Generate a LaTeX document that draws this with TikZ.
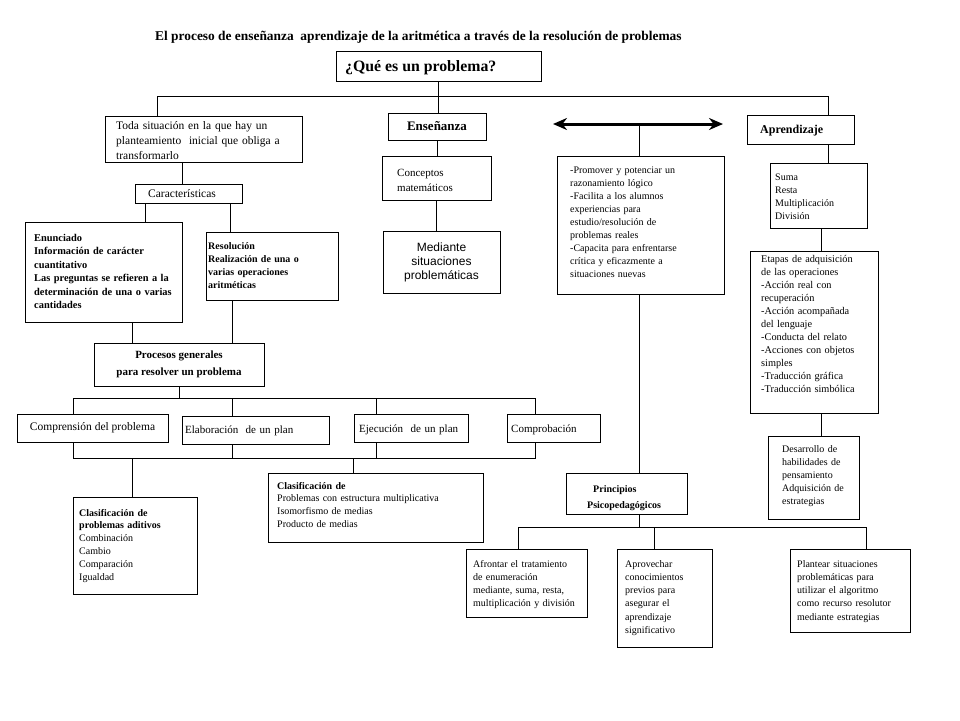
\documentclass[tikz,border=0pt]{standalone}
\usepackage{fontspec}
\setmainfont{Liberation Serif}
\newfontfamily\arialf{Liberation Sans}
\usetikzlibrary{arrows.meta,calc}
\newcommand{\fsz}[2]{\fontsize{#1}{#2}\selectfont}
\newcommand{\mkbox}[5]{\node[box, minimum width={(#4-#2)*1pt}, minimum height={(#5-#3)*1pt}] (#1) at (#2,#3) {};}
\begin{document}
\begin{tikzpicture}[x=1pt,y=-1pt,
  box/.style={draw, line width=0.8pt, inner sep=0pt, outer sep=0pt, anchor=north west},
  txt/.style={inner sep=0pt, anchor=base west, text width=260pt, align=left},
  ctxt/.style={inner sep=0pt, align=center},
  conn/.style={line width=0.8pt},
  dbl/.style={line width=3pt, {Stealth[length=14pt,width=12pt]}-{Stealth[length=14pt,width=12pt]}}]
\useasboundingbox[fill=white] (0,0) rectangle (960,720);

% title
\node[inner sep=0pt, anchor=base west, font=\fsz{13.4}{15}\bfseries] (title) at (155,40)
  {El proceso de enseñanza\ \ aprendizaje de la aritmética a través de la resolución de problemas};

% boxes
\mkbox{q}{336}{51}{541}{81}
\mkbox{toda}{105}{116}{302}{162}
\mkbox{ens}{388}{113}{486}{140}
\mkbox{conc}{382}{156}{491}{200}
\mkbox{med}{383}{231}{500}{293}
\mkbox{pm}{557}{156}{724}{294}
\mkbox{apr}{747}{115}{854}{144}
\mkbox{suma}{770}{163}{867}{228}
\mkbox{eta}{750}{251}{878}{413}
\mkbox{des}{768}{436}{859}{519}
\mkbox{car}{135}{184}{242}{203}
\mkbox{enun}{25}{222}{182}{322}
\mkbox{reso}{206}{232}{338}{300}
\mkbox{proc}{94}{343}{264}{386}
\mkbox{comp}{17}{414}{168}{442}
\mkbox{elab}{182}{416}{329}{444}
\mkbox{ejec}{354}{414}{468}{442}
\mkbox{cpb}{507}{414}{600}{442}
\mkbox{ca}{73}{497}{197}{594}
\mkbox{cd}{268}{473}{483}{542}
\mkbox{pri}{566}{473}{687}{514}
\mkbox{afr}{466}{549}{587}{617}
\mkbox{apv}{617}{549}{712}{647}
\mkbox{pla}{790}{549}{910}{632}

% texts
\node[inner sep=0pt, anchor=base west, font=\fsz{15.8}{18}\bfseries] (qt) at (345,71) {¿Qué es un problema?};
\node[txt, font=\fsz{11.5}{15}] (todat) at (116,129) {Toda situación en la que hay un\\planteamiento\ \ inicial que obliga a\\transformarlo};
\node[ctxt, font=\fsz{13}{15}\bfseries] (enst) at (ens.center) {Enseñanza};
\node[txt, font=\fsz{11}{15}] (conct) at (397,176) {Conceptos\\matemáticos};
\node[ctxt, font=\arialf\fsz{12}{14}] (medt) at (med.center) {Mediante\\situaciones\\problemáticas};
\node[txt, font=\fsz{10}{13}] (pmt) at (570,173) {-Promover y potenciar un\\razonamiento lógico\\-Facilita a los alumnos\\experiencias para\\estudio/resolución de\\problemas reales\\-Capacita para enfrentarse\\crítica y eficazmente a\\situaciones nuevas};
\node[txt, font=\fsz{12}{14}\bfseries] (aprt) at (760,133) {Aprendizaje};
\node[txt, font=\fsz{10}{13}] (sumat) at (775,180) {Suma\\Resta\\Multiplicación\\División};
\node[txt, font=\fsz{10.3}{13}] (etat) at (761,262) {Etapas de adquisición\\de las operaciones\\-Acción real con\\recuperación\\-Acción acompañada\\del lenguaje\\-Conducta del relato\\-Acciones con objetos\\simples\\-Traducción gráfica\\-Traducción simbólica};
\node[txt, font=\fsz{10}{13}] (dest) at (782,452) {Desarrollo de\\habilidades de\\pensamiento\\Adquisición de\\estrategias};
\node[txt, font=\fsz{11.5}{13}] (cart) at (148,197) {Características};
\node[txt, font=\fsz{10.4}{13.5}\bfseries] (enunt) at (34,241) {Enunciado\\Información de carácter\\cuantitativo\\Las preguntas se refieren a la\\determinación de una o varias\\cantidades};
\node[txt, font=\fsz{10}{13}\bfseries] (resot) at (208,249) {Resolución\\Realización de una o\\varias operaciones\\aritméticas};
\node[ctxt, font=\fsz{11}{17}\bfseries] (proct) at (proc.center) {Procesos generales\\para resolver un problema};
\node[ctxt, font=\fsz{11.5}{13}] (compt) at (comp.center) {Comprensión del problema};
\node[txt, font=\fsz{11}{13}] (elabt) at (185,433) {Elaboración\ \ de un plan};
\node[txt, font=\fsz{11}{13}] (eject) at (359,432) {Ejecución\ \ de un plan};
\node[txt, font=\fsz{11}{13}] (cpbt) at (511,432) {Comprobación};
\node[txt, font=\fsz{10}{12.8}] (cat) at (79,516) {\textbf{Clasificación de}\\\textbf{problemas aditivos}\\Combinación\\Cambio\\Comparación\\Igualdad};
\node[txt, font=\fsz{10}{12.7}] (cdt) at (277,489) {\textbf{Clasificación de}\\Problemas con estructura multiplicativa\\Isomorfismo de medias\\Producto de medias};
\node[txt, font=\fsz{10}{16}\bfseries] (prit) at (587,492) {\hspace*{6pt}Principios\\Psicopedagógicos};
\node[txt, font=\fsz{10}{13.3}] (afrt) at (473,567) {Afrontar el tratamiento\\de enumeración\\mediante, suma, resta,\\multiplicación y división};
\node[txt, font=\fsz{10}{13.3}] (apvt) at (625,567) {Aprovechar\\conocimientos\\previos para\\asegurar el\\aprendizaje\\significativo};
\node[txt, font=\fsz{10}{13.3}] (plat) at (797,567) {Plantear situaciones\\problemáticas para\\utilizar el algoritmo\\como recurso resolutor\\mediante estrategias};

% connector coordinates
\coordinate (hl) at (157,96);
\coordinate (hr) at (828,96);
\coordinate (al) at (553,124);
\coordinate (ar) at (723,124);
\coordinate (am) at (639,124);
\coordinate (rx) at (821,0);
\coordinate (x1) at (182,0);
\coordinate (x2) at (145,0);
\coordinate (x3) at (230,0);
\coordinate (x4) at (132,0);
\coordinate (x5) at (232,0);
\coordinate (ua) at (73,398);
\coordinate (ud) at (535,398);
\coordinate (ub) at (232,398);
\coordinate (uc) at (376,398);
\coordinate (la) at (73,458);
\coordinate (ld) at (535,458);
\coordinate (lb) at (232,458);
\coordinate (lc) at (376,458);
\coordinate (lx) at (132,458);
\coordinate (ly) at (353,458);
\coordinate (pa) at (518,527);
\coordinate (pb) at (654,527);
\coordinate (pc) at (866,527);

% top
\draw[conn] (hl) -- (hr);
\draw[conn] (hl) -- (hl |- toda.north);
\draw[conn] (hr) -- (hr |- apr.north);
\draw[conn] (q.south) -- (q.south |- ens.north);
\draw[conn] (ens.south) -- (ens.south |- conc.north);
\draw[conn] (conc.south) -- (conc.south |- med.north);
% arrow and middle column
\draw[dbl] (al) -- (ar);
\draw[conn] (am) -- (am |- pm.north);
\draw[conn] (am |- pm.south) -- (am |- pri.north);
\draw[conn] (am |- pri.south) -- (am |- pa);
\draw[conn] (pa |- afr.north) -- (pa) -- (pc) -- (pc |- pla.north);
\draw[conn] (pb) -- (pb |- apv.north);
% right column
\draw[conn] (hr |- apr.south) -- (hr |- suma.north);
\draw[conn] (rx |- suma.south) -- (rx |- eta.north);
\draw[conn] (rx |- eta.south) -- (rx |- des.north);
% left column
\draw[conn] (x1 |- toda.south) -- (x1 |- car.north);
\draw[conn] (x2 |- car.south) -- (x2 |- enun.north);
\draw[conn] (x3 |- car.south) -- (x3 |- reso.north);
\draw[conn] (x4 |- enun.south) -- (x4 |- proc.north);
\draw[conn] (x5 |- reso.south) -- (x5 |- proc.north);
\draw[conn] (proc.south) -- (proc.south |- ua);
\draw[conn] (ua |- comp.north) -- (ua) -- (ud) -- (ud |- cpb.north);
\draw[conn] (ub) -- (ub |- elab.north);
\draw[conn] (uc) -- (uc |- ejec.north);
\draw[conn] (ua |- comp.south) -- (la) -- (ld) -- (ud |- cpb.south);
\draw[conn] (lb |- elab.south) -- (lb);
\draw[conn] (lc |- ejec.south) -- (lc);
\draw[conn] (lx) -- (lx |- ca.north);
\draw[conn] (ly) -- (ly |- cd.north);
\end{tikzpicture}
\end{document}
